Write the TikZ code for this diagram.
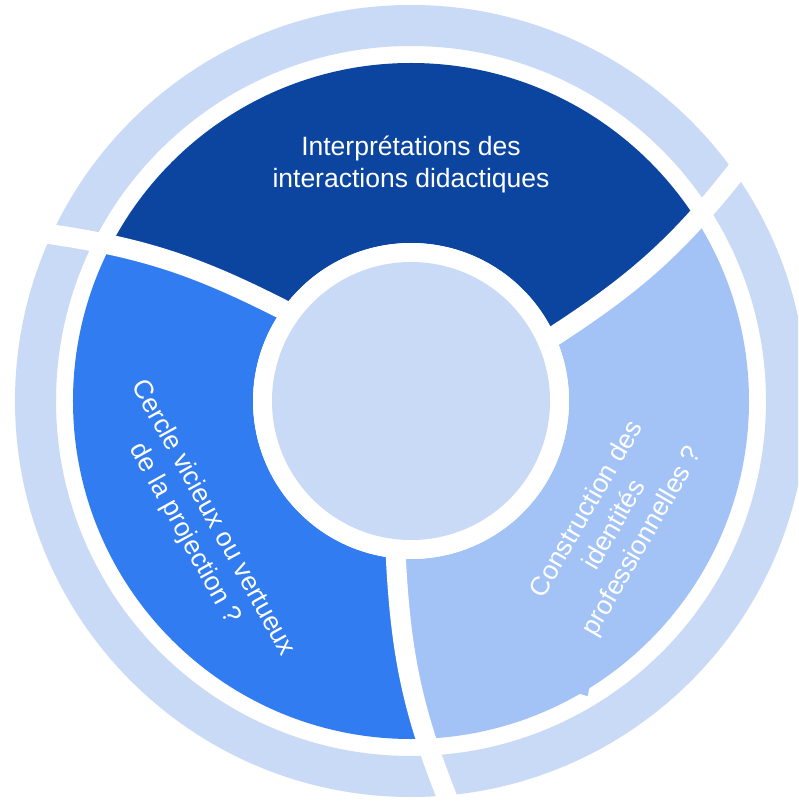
\documentclass[tikz,border=0pt]{standalone}
\usepackage{fontspec}
\setmainfont{Liberation Sans}
\definecolor{ringc}{RGB}{201,218,246}
\definecolor{segdark}{RGB}{11,69,160}
\definecolor{segmid}{RGB}{50,124,241}
\definecolor{seglight}{RGB}{163,195,247}
\tikzset{
  gapline/.style={draw=white, line width=20pt},
  lbl/.style={text=white, font=\fontsize{26.5}{32}\selectfont, anchor=base, inner sep=0pt},
}
\begin{document}
\begin{tikzpicture}[x=1pt,y=1pt]
\useasboundingbox (-411,-401) rectangle (387,401);
\clip (-411,-401) rectangle (387,401);
\fill[white] (-411,-401) rectangle (387,401);
% segments
\begin{scope}
  \clip (0,0) circle (338);
  \fill[segdark] (24.5:158) to[out=33,in=232] (35.5:405)
     arc[start angle=35.5, end angle=155.5, radius=405]
     to[out=-8,in=153] (144.5:158)
     arc[start angle=144.5, end angle=24.5, radius=158] -- cycle;
  \fill[segmid] (144.5:158) to[out=153,in=-8] (155.5:405)
     arc[start angle=155.5, end angle=275.5, radius=405]
     to[out=112,in=-87] (264.5:158)
     arc[start angle=264.5, end angle=144.5, radius=158] -- cycle;
  \fill[seglight] (-95.5:158) to[out=-87,in=112] (-84.5:405)
     arc[start angle=-84.5, end angle=35.5, radius=405]
     to[out=232,in=33] (24.5:158)
     arc[start angle=24.5, end angle=-95.5, radius=158] -- cycle;
\end{scope}
% small barb on the light segment
\fill[seglight] (-60.2:337) -- (-59.1:344) -- (-58.0:337) -- cycle;
% outer ring
\fill[ringc, even odd rule] (0,0) circle (396) (0,0) circle (355);
% gaps
\draw[gapline] (144.5:135) -- (144.5:158) to[out=153,in=-8] (155.5:405);
\draw[gapline] (24.5:135) -- (24.5:158) to[out=33,in=232] (35.5:405);
\draw[gapline] (-95.5:135) -- (-95.5:158) to[out=-87,in=112] (-84.5:405);
% hub
\fill[white] (0,0) circle (158);
\fill[ringc] (0,0) circle (139);
% labels
\node[lbl] (t1a) at (0,245) {Interprétations des};
\node[lbl] (t1b) at (0,213) {interactions didactiques};
\node[lbl, rotate=-61] (t2a) at (-204.3,-120.6) {Cercle vicieux ou vertueux};
\node[lbl, rotate=-61] (t2b) at (-232.3,-136.1) {de la projection ?};
\node[lbl, rotate=60] (t3a) at (182.3,-112) {Construction des};
\node[lbl, rotate=60] (t3b) at (210,-128) {identités};
\node[lbl, rotate=60] (t3c) at (237.7,-144) {professionnelles ?};
\end{tikzpicture}
\end{document}
